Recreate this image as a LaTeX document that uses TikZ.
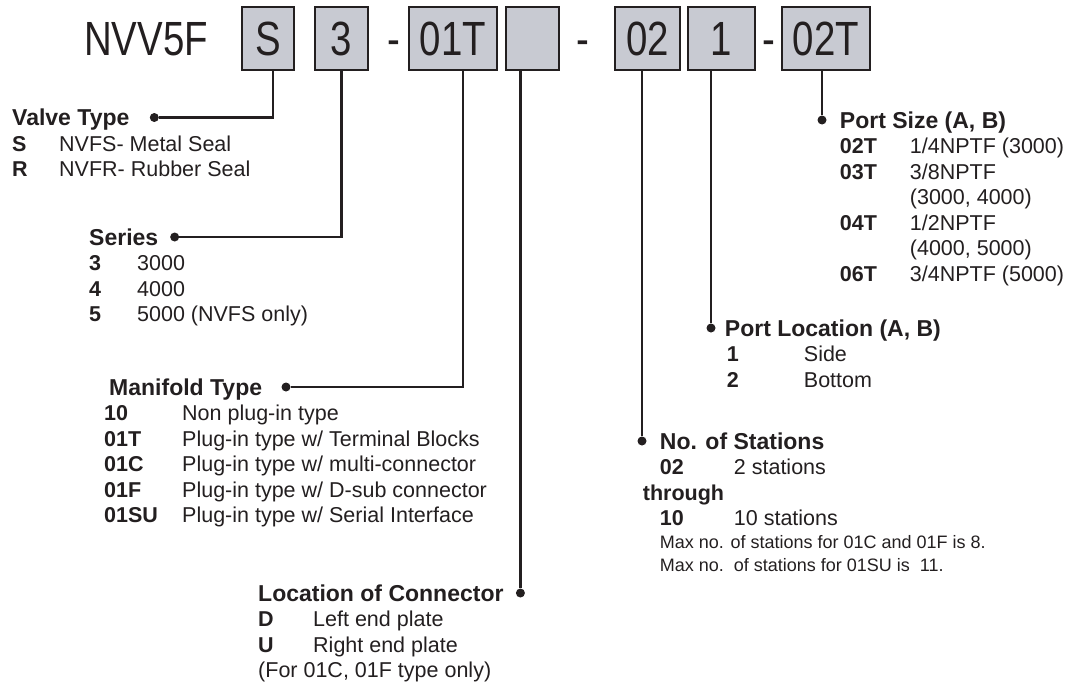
\documentclass[tikz,border=0pt]{standalone}
\usepackage{fontspec}
\setmainfont{Liberation Sans}
\newfontfamily\bigfont[FakeStretch=0.8]{Liberation Sans}
\usetikzlibrary{positioning}
\definecolor{boxgray}{RGB}{200,202,210}
\definecolor{ink}{RGB}{35,31,32}
\tikzstyle{codebox} = [rectangle, draw=ink, line width=2pt, fill=boxgray, minimum height=63pt, inner sep=0pt, text height=34.4pt, text depth=0pt, text=ink, font=\bigfont\fontsize{48}{48}\selectfont]
\tikzstyle{model} = [inner sep=0pt, text height=34.4pt, text depth=0pt, text=ink, font=\bigfont\fontsize{48}{48}\selectfont]
\tikzstyle{head} = [inner sep=0pt, anchor=west, text height=16.5pt, text depth=0pt, text=ink, font=\bfseries\fontsize{23}{23}\selectfont]
\tikzstyle{rows} = [inner sep=0pt, anchor=north west, text=ink, font=\fontsize{21.5}{25.5}\selectfont]
\tikzstyle{dot} = [circle, fill=ink, inner sep=0pt, minimum size=9pt]
\tikzstyle{edge} = [line width=2.4pt, draw=ink]

\begin{document}
\begin{tikzpicture}[x=1pt, y=1pt]
\useasboundingbox (0,0) rectangle (1073,-683);

% model code
\node (t) [model] at (146,-38.5) {NVV5F};
\node (b1) [codebox, minimum width=52pt] at (268,-38.5) {S};
\node (b2) [codebox, minimum width=53pt, right=19pt of b1] {3};
\node (b3) [codebox, minimum width=88pt, right=39pt of b2] {01T};
\node (b4) [codebox, minimum width=53pt, right=7pt of b3] {};
\node (b5) [codebox, minimum width=65pt, right=54pt of b4] {02};
\node (b6) [codebox, minimum width=67pt, right=6pt of b5] {1};
\node (b7) [codebox, minimum width=88pt, right=25pt of b6] {02T};
\node (h1) [model, right=18pt of b2] {-};
\node (h2) [model, right=16pt of b4] {-};
\node (h3) [model, right=6pt of b6] {-};

% valve type
\node (vt) [head] at (12,-117.5) {Valve Type};
\node (d1) [dot, right=20pt of vt] {};
\node (vtl) [rows] at ([yshift=-7pt]vt.south west) {\begin{tabular}{@{}p{47pt}@{}l@{}}
\textbf{S} & NVFS- Metal Seal\\
\textbf{R} & NVFR- Rubber Seal
\end{tabular}};

% series
\node (se) [head] at (89,-237) {Series};
\node (d2) [dot, right=11.5pt of se] {};
\node (sel) [rows] at ([yshift=-7pt]se.south west) {\begin{tabular}{@{}p{48pt}@{}l@{}}
\textbf{3} & 3000\\
\textbf{4} & 4000\\
\textbf{5} & 5000 (NVFS only)
\end{tabular}};

% manifold type
\node (mt) [head] at (109,-387) {Manifold Type};
\node (d3) [dot, right=19pt of mt] {};
\node (mtl) [rows] at ([yshift=-7pt, xshift=-5pt]mt.south west) {\begin{tabular}{@{}p{78pt}@{}l@{}}
\textbf{10} & Non plug-in type\\
\textbf{01T} & Plug-in type w/ Terminal Blocks\\
\textbf{01C} & Plug-in type w/ multi-connector\\
\textbf{01F} & Plug-in type w/ D-sub connector\\
\textbf{01SU} & Plug-in type w/ Serial Interface
\end{tabular}};

% location of connector
\node (lc) [head] at (258,-593) {Location of Connector};
\node (d4) [dot, right=12pt of lc] {};
\node (lcl) [rows] at ([yshift=-7pt]lc.south west) {\begin{tabular}{@{}p{55pt}@{}l@{}}
\textbf{D} & Left end plate\\
\textbf{U} & Right end plate\\
\multicolumn{2}{@{}l@{}}{(For 01C, 01F type only)}
\end{tabular}};

% no. of stations
\node (d5) [dot] at (642,-441) {};
\node (ns) [head, right=13pt of d5] {No. of Stations};
\node (nsl) [rows] at ([yshift=-7pt]ns.south west) {\begin{tabular}{@{}p{74pt}@{}l@{}}
\textbf{02} & 2 stations\\
\multicolumn{2}{@{\hspace*{-17pt}}l@{}}{\textbf{through}}\\
\textbf{10} & 10 stations\\[-3pt]
\multicolumn{2}{@{}l@{}}{\fontsize{18}{23}\selectfont Max no. of stations for 01C and 01F is 8.}\\[-2.5pt]
\multicolumn{2}{@{}l@{}}{\fontsize{18}{23}\selectfont Max no.~~of stations for 01SU is~~11.}
\end{tabular}};

% port location
\node (d6) [dot] at (711,-328) {};
\node (pl) [head, right=9pt of d6] {Port Location (A, B)};
\node (pll) [rows] at ([yshift=-7pt, xshift=2pt]pl.south west) {\begin{tabular}{@{}p{77pt}@{}l@{}}
\textbf{1} & Side\\
\textbf{2} & Bottom
\end{tabular}};

% port size
\node (d7) [dot] at (822,-120) {};
\node (ps) [head, right=13pt of d7] {Port Size (A, B)};
\node (psl) [rows] at ([yshift=-7pt]ps.south west) {\begin{tabular}{@{}p{70pt}@{}l@{}}
\textbf{02T} & 1/4NPTF (3000)\\
\textbf{03T} & 3/8NPTF\\
 & (3000, 4000)\\
\textbf{04T} & 1/2NPTF\\
 & (4000, 5000)\\
\textbf{06T} & 3/4NPTF (5000)
\end{tabular}};

\draw [edge] (d1) -| ([xshift=5pt]b1.south);
\draw [edge] (d2) -| (b2.south);
\draw [edge] (d3) -| ([xshift=10pt]b3.south);
\draw [edge] (d4) -- (d4 |- b4.south);
\draw [edge] (d5) -- (d5 |- b5.south);
\draw [edge] (d6) -- (d6 |- b6.south);
\draw [edge] (d7) -- (d7 |- b7.south);

\end{tikzpicture}
\end{document}
